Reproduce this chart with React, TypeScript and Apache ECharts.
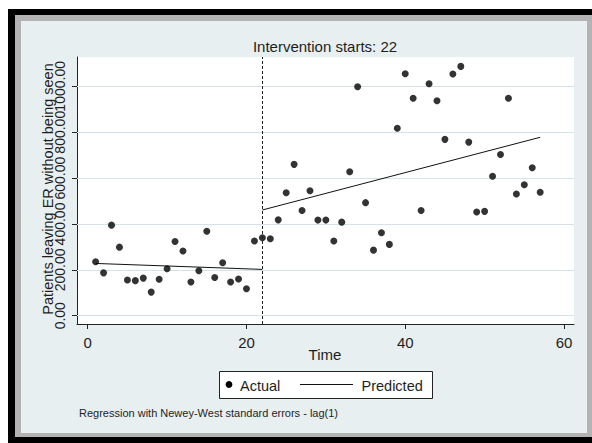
import React, { useEffect, useRef } from "react";
import * as echarts from "echarts";

// Monthly counts of patients leaving the ER without being seen
const timePoints = [
  1, 2, 3, 4, 5, 6, 7, 8, 9, 10, 11, 12, 13, 14, 15, 16, 17, 18, 19, 20,
  21, 22, 23, 24, 25, 26, 27, 28, 29, 30, 31, 32, 33, 34, 35, 36, 37, 38, 39, 40,
  41, 42, 43, 44, 45, 46, 47, 48, 49, 50, 51, 52, 53, 54, 55, 56, 57,
];
const actualValues = [
  235, 187, 395, 299, 156, 153, 164, 103, 159, 205, 324, 282, 147, 196, 368, 167, 231, 147, 160, 118,
  326, 340, 336, 418, 536, 660, 459, 545, 417, 417, 326, 408, 628, 998, 493, 286, 362, 311, 817, 1055,
  948, 459, 1011, 937, 769, 1054, 1087, 757, 452, 455, 608, 703, 948, 531, 571, 645, 538,
];
// Fitted segments before and after the intervention [time, value]
const predictedPre = [
  [1, 228],
  [22, 202],
];
const predictedPost = [
  [22, 461],
  [57, 778],
];
const interventionTime = 22;
const xTicks = [0, 20, 40, 60];
const yTicks = [0, 200, 400, 600, 800, 1000];

const FONT = '"Liberation Sans", Arial, sans-serif';
const INK = "#1e1e1e";
const Y_MIN = -36;
const Y_MAX = 1128;

// The labels touch each other, so every other one sits on a twin axis
// to keep the overlap filter from dropping any of them.
const yLabelsA = yTicks.filter((_, i) => i % 2 === 0);
const yLabelsB = yTicks.filter((_, i) => i % 2 === 1);

const yLabelStyle = (values: number[]) => ({
  customValues: values,
  rotate: 90,
  fontSize: 14,
  fontFamily: FONT,
  color: INK,
  margin: 10,
  hideOverlap: false,
  formatter: (v: number) => v.toFixed(2),
});

export default function App() {
  const ref = useRef<HTMLDivElement>(null);

  useEffect(() => {
    if (!ref.current) return;
    const chart = echarts.init(ref.current, undefined, { renderer: "svg" });

    const option = {
      animation: false,
      graphic: [
        // outer frame
        { type: "rect", z: -10, silent: true, shape: { x: 8, y: 9, width: 584, height: 434 }, style: { fill: "#000" } },
        { type: "rect", z: -9, silent: true, shape: { x: 15, y: 15, width: 577, height: 422 }, style: { fill: "#b3b3b3" } },
        { type: "rect", z: -8, silent: true, shape: { x: 21, y: 21, width: 566, height: 412 }, style: { fill: "#e8eff1" } },
        // titles
        {
          type: "text",
          x: 325,
          y: 46,
          style: { text: `Intervention starts: ${interventionTime}`, font: `15px ${FONT}`, fill: INK, align: "center", verticalAlign: "middle" },
        },
        {
          type: "text",
          x: 325,
          y: 354,
          style: { text: "Time", font: `15px ${FONT}`, fill: INK, align: "center", verticalAlign: "middle" },
        },
        {
          type: "text",
          x: 48,
          y: 189,
          rotation: Math.PI / 2,
          style: { text: "Patients leaving ER without being seen", font: `14.5px ${FONT}`, fill: INK, align: "center", verticalAlign: "middle" },
        },
        // legend
        {
          type: "group",
          children: [
            { type: "rect", shape: { x: 219.5, y: 371.5, width: 213, height: 27 }, style: { fill: "#fff", stroke: "#222", lineWidth: 1 } },
            { type: "circle", shape: { cx: 229, cy: 384.5, r: 3.4 }, style: { fill: "#000" } },
            { type: "text", x: 240, y: 386, style: { text: "Actual", font: `14.5px ${FONT}`, fill: INK, verticalAlign: "middle" } },
            { type: "line", shape: { x1: 300, y1: 384.5, x2: 353, y2: 384.5 }, style: { stroke: "#111", lineWidth: 1 } },
            { type: "text", x: 361.5, y: 386, style: { text: "Predicted", font: `14.5px ${FONT}`, fill: INK, verticalAlign: "middle" } },
          ],
        },
        {
          type: "text",
          x: 79,
          y: 412.5,
          style: { text: "Regression with Newey-West standard errors - lag(1)", font: `11px ${FONT}`, fill: INK, verticalAlign: "middle" },
        },
      ],
      grid: {
        left: 77,
        top: 57,
        width: 497,
        height: 267,
        show: true,
        backgroundColor: "#fff",
        borderWidth: 0,
      },
      xAxis: {
        type: "value",
        min: -1.35,
        max: 61.26,
        axisLine: { onZero: false, lineStyle: { color: "#222", width: 1 } },
        axisTick: { customValues: xTicks, length: 5, lineStyle: { color: "#222" } },
        axisLabel: { customValues: xTicks, fontSize: 15, fontFamily: FONT, color: INK, margin: 11, hideOverlap: false },
        splitLine: { show: false },
      },
      yAxis: [
        {
          type: "value",
          position: "left",
          min: Y_MIN,
          max: Y_MAX,
          axisLine: { show: true, onZero: false, lineStyle: { color: "#222", width: 1 } },
          axisTick: { show: true, customValues: yTicks, length: 5, lineStyle: { color: "#222" } },
          axisLabel: yLabelStyle(yLabelsA),
          splitLine: { show: false },
        },
        {
          type: "value",
          position: "left",
          offset: 0,
          min: Y_MIN,
          max: Y_MAX,
          axisLine: { show: false, onZero: false },
          axisTick: { show: false },
          axisLabel: yLabelStyle(yLabelsB),
          splitLine: { show: false },
        },
      ],
      series: [
        {
          name: "Actual",
          type: "scatter",
          data: timePoints.map((t, i) => [t, actualValues[i]]),
          symbol: "circle",
          symbolSize: 7,
          itemStyle: { color: "#000" },
          z: 4,
          markLine: {
            silent: true,
            symbol: "none",
            z: 1,
            label: { show: false },
            lineStyle: { color: "#d6e2e5", width: 1, type: "solid" },
            data: yTicks.map((v) => ({ yAxis: v })),
          },
        },
        {
          name: "Predicted",
          type: "line",
          data: predictedPre,
          showSymbol: false,
          symbol: "none",
          lineStyle: { color: "#111", width: 1 },
          z: 3,
        },
        {
          name: "Predicted",
          type: "line",
          data: predictedPost,
          showSymbol: false,
          symbol: "none",
          lineStyle: { color: "#111", width: 1 },
          z: 3,
          markLine: {
            silent: true,
            symbol: "none",
            label: { show: false },
            lineStyle: { color: "#222", width: 1, type: [3, 2] },
            data: [{ xAxis: interventionTime }],
          },
        },
      ],
    };

    chart.setOption(option as any);
    return () => chart.dispose();
  }, []);

  return <div ref={ref} style={{ position: "absolute", left: 0, top: 0, width: 592, height: 443 }} />;
}
